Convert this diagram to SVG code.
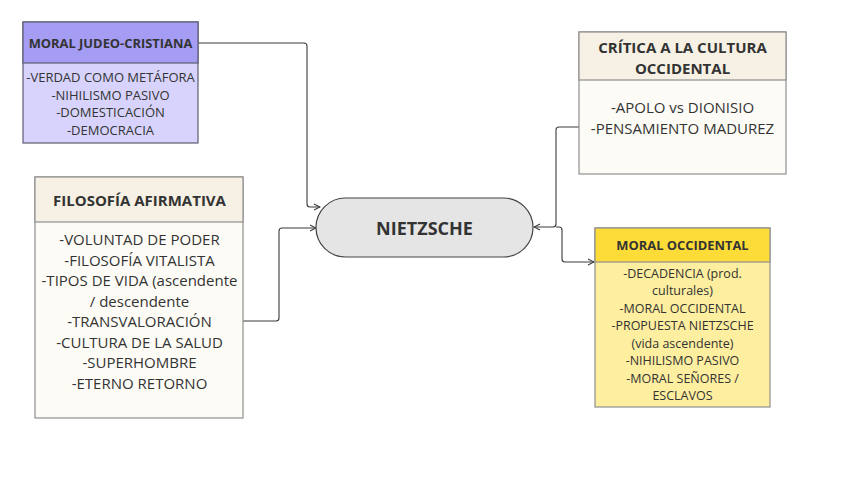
<svg xmlns="http://www.w3.org/2000/svg" width="848" height="477" viewBox="0 0 848 477">
<style>
text{font-family:"Open Sans","Noto Sans","Liberation Sans",sans-serif;fill:#333;text-anchor:middle}
.h{font-weight:bold}
.c{fill:none;stroke:#3a3a3a;stroke-width:1.1}
.box{stroke:#8f8f8f;stroke-width:1.2}
</style>
<defs>
<marker id="ar" viewBox="0 0 8 8" refX="7" refY="4" markerWidth="8" markerHeight="8" markerUnits="userSpaceOnUse" orient="auto">
<path d="M1,1 L7,4 L1,7" fill="none" stroke="#3a3a3a" stroke-width="1.1"/>
</marker>
</defs>
<rect width="848" height="477" fill="#fff"/>
<g id="connectors">
<path class="c" d="M198,43 H304 Q307,43 307,46 V204 Q307,207 310,207 H320" marker-end="url(#ar)"/>
<path class="c" d="M243,321 H276 Q279,321 279,318 V231 Q279,228 282,228 H316" marker-end="url(#ar)"/>
<path class="c" d="M579,127 H559 Q556,127 556,130 V224 Q556,227 553,227 H534" marker-end="url(#ar)"/>
<path class="c" d="M556,227 H559 Q562,227 562,230 V259 Q562,262 565,262 H594" marker-end="url(#ar)"/>
</g>
<g id="moral-judeo">
<rect x="23" y="22" width="175" height="121" fill="#d7d3fc" stroke="#5c5c72" stroke-width="1.2"/>
<rect x="23" y="22" width="175" height="41" fill="#a59df4" stroke="#5c5c72" stroke-width="1.2"/>
<text class="h" x="110.5" y="48" font-size="12.9">MORAL JUDEO-CRISTIANA</text>
<text x="110.5" y="82" font-size="13">-VERDAD COMO METÁFORA</text>
<text x="110.5" y="99.5" font-size="13">-NIHILISMO PASIVO</text>
<text x="110.5" y="117" font-size="13">-DOMESTICACIÓN</text>
<text x="110.5" y="134.5" font-size="13">-DEMOCRACIA</text>
</g>
<g id="filosofia">
<rect class="box" x="35" y="177" width="208" height="241" fill="#fcfbf6"/>
<rect class="box" x="35" y="177" width="208" height="45" fill="#f6f1e4"/>
<text class="h" x="139.5" y="206" font-size="15">FILOSOFÍA AFIRMATIVA</text>
<text x="139.5" y="245" font-size="15">-VOLUNTAD DE PODER</text>
<text x="139.5" y="265.5" font-size="15">-FILOSOFÍA VITALISTA</text>
<text x="139.5" y="286" font-size="15">-TIPOS DE VIDA (ascendente</text>
<text x="139.5" y="306.5" font-size="15">/ descendente</text>
<text x="139.5" y="327" font-size="15">-TRANSVALORACIÓN</text>
<text x="139.5" y="347.5" font-size="15">-CULTURA DE LA SALUD</text>
<text x="139.5" y="368" font-size="15">-SUPERHOMBRE</text>
<text x="139.5" y="388.5" font-size="15">-ETERNO RETORNO</text>
</g>
<g id="critica">
<rect class="box" x="579" y="32" width="207" height="142" fill="#fcfbf6"/>
<rect class="box" x="579" y="32" width="207" height="48" fill="#f6f1e4"/>
<text class="h" x="682.5" y="53" font-size="15">CRÍTICA A LA CULTURA</text>
<text class="h" x="682.5" y="74" font-size="15">OCCIDENTAL</text>
<text x="682.5" y="113" font-size="15">-APOLO vs DIONISIO</text>
<text x="682.5" y="134" font-size="15">-PENSAMIENTO MADUREZ</text>
</g>
<g id="moral-occidental">
<rect class="box" x="595" y="228" width="175" height="179" fill="#feee9f"/>
<rect class="box" x="595" y="228" width="175" height="34" fill="#fddc37"/>
<text class="h" x="682.5" y="250" font-size="12.9">MORAL OCCIDENTAL</text>
<text x="682.5" y="277.5" font-size="12.5">-DECADENCIA (prod.</text>
<text x="682.5" y="295" font-size="12.5">culturales)</text>
<text x="682.5" y="312.5" font-size="12.5">-MORAL OCCIDENTAL</text>
<text x="682.5" y="330" font-size="12.5">-PROPUESTA NIETZSCHE</text>
<text x="682.5" y="347.5" font-size="12.5">(vida ascendente)</text>
<text x="682.5" y="365" font-size="12.5">-NIHILISMO PASIVO</text>
<text x="682.5" y="382.5" font-size="12.5">-MORAL SEÑORES /</text>
<text x="682.5" y="400" font-size="12.5">ESCLAVOS</text>
</g>
<g id="nietzsche">
<rect x="316" y="198" width="217" height="59" rx="29.5" fill="#e5e5e5" stroke="#444" stroke-width="1.2"/>
<text class="h" x="424.5" y="234.5" font-size="18">NIETZSCHE</text>
</g>
</svg>
